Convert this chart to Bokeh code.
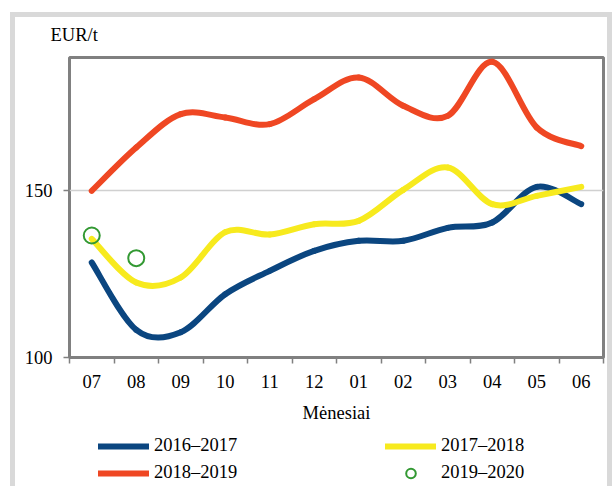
import numpy as np
from bokeh.plotting import figure
from bokeh.layouts import column
from bokeh.models import Range1d, FixedTicker, Legend, LegendItem
from bokeh.embed import file_html
from bokeh.resources import INLINE

# ---- data ----
months = ["07", "08", "09", "10", "11", "12", "01", "02", "03", "04", "05", "06"]
s2016_2017 = [128.5, 108.3, 107.6, 119.0, 126.0, 132.0, 135.0, 135.0, 138.9, 140.5, 151.2, 146.0]
s2017_2018 = [135.6, 122.5, 124.0, 137.6, 136.9, 140.0, 141.0, 150.3, 157.0, 146.0, 148.5, 151.2]
s2018_2019 = [150.0, 163.0, 173.0, 172.0, 170.0, 177.5, 184.0, 175.5, 172.5, 188.7, 169.0, 163.4]
s2019_2020 = [136.6, 129.8]
labels = ["2016–2017", "2017–2018", "2018–2019", "2019–2020"]
y_ticks = [100, 150]

FONT = "Liberation Serif"
FS = "18.5px"
BLUE, YELLOW, RED, GREEN = "#0b4680", "#f7ea1e", "#ef4723", "#339933"
FRAME = "#808080"

x_range = Range1d(0, len(months))
xs = np.arange(len(months)) + 0.5


def bezier_segments(x, y):
    x = np.asarray(x, float)
    y = np.asarray(y, float)
    n = len(x)
    d = dict(x0=[], y0=[], x1=[], y1=[], cx0=[], cy0=[], cx1=[], cy1=[])
    for i in range(n - 1):
        pr = max(i - 1, 0)
        nx = min(i + 2, n - 1)
        d["x0"].append(x[i]); d["y0"].append(y[i])
        d["x1"].append(x[i + 1]); d["y1"].append(y[i + 1])
        d["cx0"].append(x[i] + (x[i + 1] - x[pr]) / 6.0)
        d["cy0"].append(y[i] + (y[i + 1] - y[pr]) / 6.0)
        d["cx1"].append(x[i + 1] - (x[nx] - x[i]) / 6.0)
        d["cy1"].append(y[i + 1] - (y[nx] - y[i]) / 6.0)
    return d


def draw_series(fig):
    rb = fig.bezier(**bezier_segments(xs, s2016_2017), line_color=BLUE, line_width=6, line_cap="round")
    ry = fig.bezier(**bezier_segments(xs, s2017_2018), line_color=YELLOW, line_width=6, line_cap="round")
    rr = fig.bezier(**bezier_segments(xs, s2018_2019), line_color=RED, line_width=6, line_cap="round")
    rg = fig.scatter(xs[:len(s2019_2020)], s2019_2020, marker="circle", size=16,
                     fill_color=None, line_color=GREEN, line_width=2)
    return rb, ry, rr, rg


# ---------------- main chart ----------------
p = figure(width=612, height=430, output_backend="svg", toolbar_location=None,
           x_range=x_range, y_range=Range1d(100, 190))
p.min_border_left = 69
p.min_border_right = 9
p.min_border_top = 57
p.min_border_bottom = 73
p.background_fill_color = "white"
p.border_fill_color = None
p.outline_line_color = FRAME
p.outline_line_width = 3

draw_series(p)

xa = p.xaxis[0]
xa.ticker = FixedTicker(ticks=list(xs), minor_ticks=list(range(len(months) + 1)))
xa.major_label_overrides = {float(t): m for t, m in zip(xs, months)}
xa.major_tick_out = 0
xa.major_tick_in = 0
xa.minor_tick_out = 6
xa.minor_tick_in = 0
xa.minor_tick_line_color = FRAME
xa.minor_tick_line_width = 1.5
xa.axis_line_color = None
xa.major_label_standoff = 11
xa.major_label_text_font = FONT
xa.major_label_text_font_size = FS
xa.major_label_text_color = "black"
xa.axis_label = "Mėnesiai"
xa.axis_label_text_font = FONT
xa.axis_label_text_font_size = FS
xa.axis_label_text_font_style = "normal"
xa.axis_label_text_color = "black"
xa.axis_label_standoff = 12

ya = p.yaxis[0]
ya.ticker = FixedTicker(ticks=y_ticks, minor_ticks=[])
ya.major_tick_out = 6
ya.major_tick_in = 0
ya.major_tick_line_color = FRAME
ya.major_tick_line_width = 1.5
ya.minor_tick_line_color = None
ya.axis_line_color = None
ya.major_label_standoff = 11
ya.major_label_text_font = FONT
ya.major_label_text_font_size = FS
ya.major_label_text_color = "black"

p.xgrid.visible = False
p.ygrid.ticker = FixedTicker(ticks=[150])
p.ygrid.grid_line_color = "#d0d0d0"
p.ygrid.grid_line_width = 1.5

p.title.text = "EUR/t"
p.title.align = "left"
p.title.offset = -19
p.title.text_font = FONT
p.title.text_font_size = FS
p.title.text_font_style = "normal"
p.title.text_color = "black"
p.title.standoff = 25

# ---------------- legend strip ----------------
lg = figure(width=612, height=56, output_backend="svg", toolbar_location=None,
            x_range=x_range, y_range=Range1d(0, 1),
            x_axis_location=None, y_axis_location=None, title=None)
lg.min_border = 0
lg.min_border_left = lg.min_border_right = lg.min_border_top = lg.min_border_bottom = 0
lg.grid.visible = False
lg.background_fill_color = None
lg.border_fill_color = None
lg.outline_line_color = None
lb, ly, lr, lgn = draw_series(lg)


def mk_legend(items, x, y):
    return Legend(items=items, location=(x, y), orientation="vertical",
                  glyph_width=51, glyph_height=24, label_height=20, label_standoff=5,
                  spacing=3, padding=0, margin=0, border_line_color=None,
                  background_fill_alpha=0, label_text_font=FONT,
                  label_text_font_size=FS, label_text_color="black")


lg.add_layout(mk_legend([LegendItem(label=labels[0], renderers=[lb]),
                         LegendItem(label=labels[2], renderers=[lr])], 29, 1.5), "center")
lg.add_layout(mk_legend([LegendItem(label=labels[1], renderers=[ly])], 316, 28.5), "center")
lg.add_layout(mk_legend([LegendItem(label=labels[3], renderers=[lgn])], 316, 1.5), "center")

g = "linear-gradient(#d9d9d9,#d9d9d9)"
layout = column(p, lg, spacing=0)
layout.styles = {"background": f"{g} 10px 12px / 5px 100% no-repeat, {g} 10px 12px / 602px 5px no-repeat, "
                               f"{g} 607px 12px / 5px 100% no-repeat, #ffffff"}

open("out.html", "w").write(file_html(layout, INLINE))
